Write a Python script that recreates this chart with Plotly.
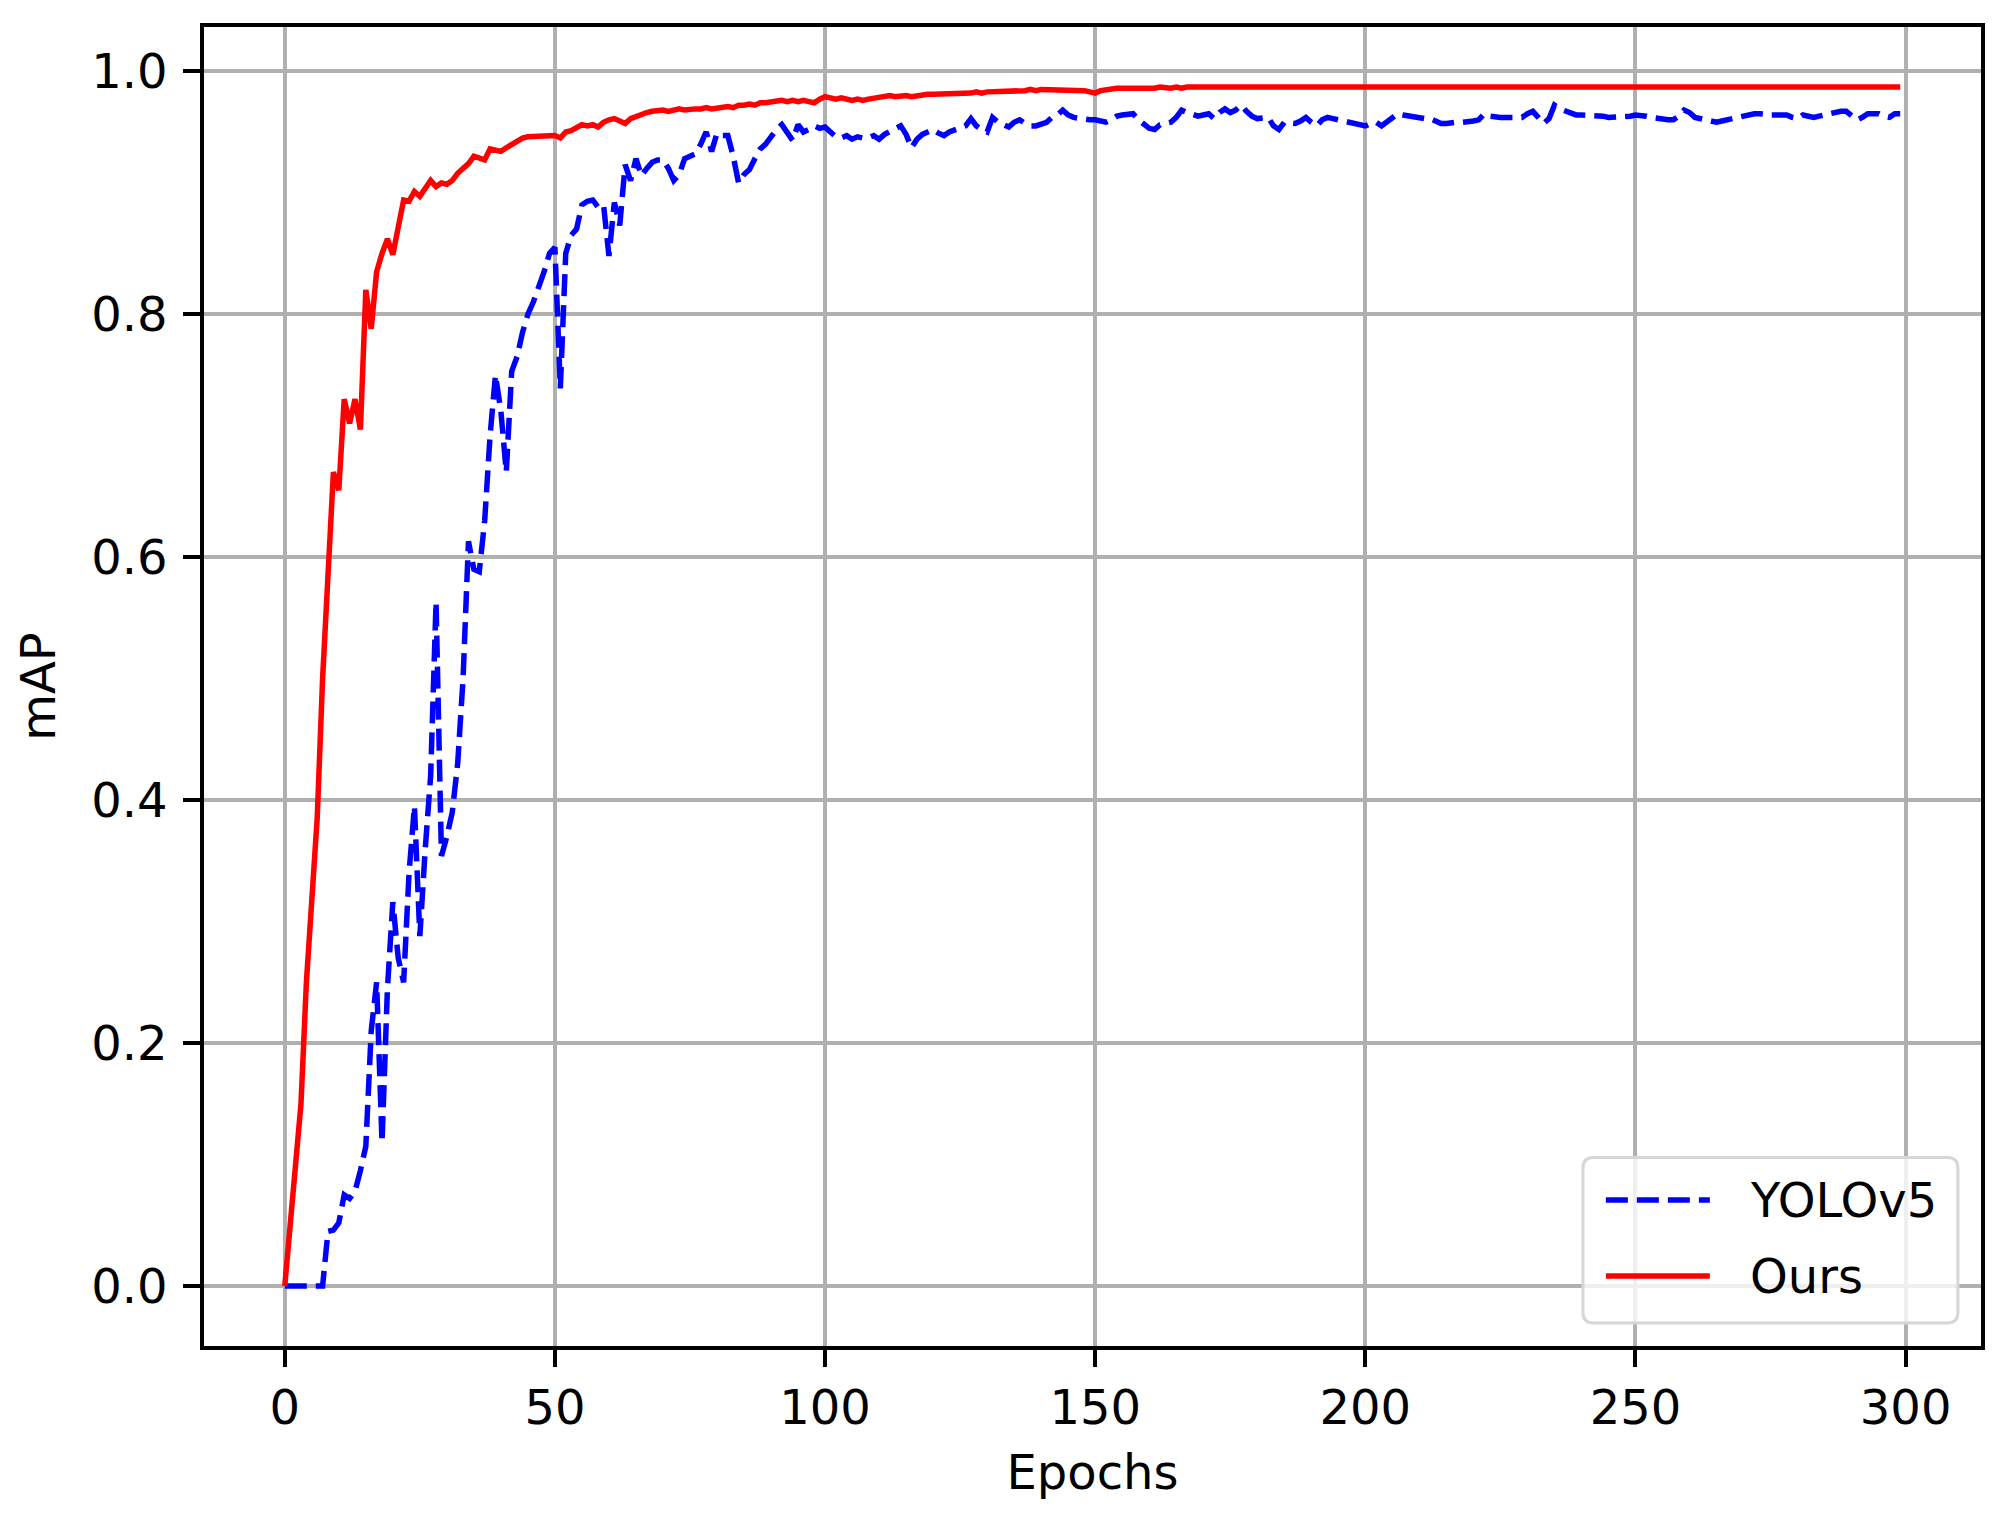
#
# mAP per epoch: YOLOv5 vs. ours
#

import plotly.graph_objects as go

epochs = list(range(300))

map_yolov5 = [
    0.000, 0.000, 0.000, 0.000, 0.000, 0.000, 0.000, 0.000, 0.045, 0.046,
    0.052, 0.075, 0.072, 0.078, 0.095, 0.115, 0.210, 0.250, 0.118, 0.245,
    0.316, 0.270, 0.250, 0.340, 0.395, 0.288, 0.360, 0.420, 0.563, 0.354,
    0.370, 0.390, 0.430, 0.500, 0.613, 0.590, 0.588, 0.630, 0.700, 0.750,
    0.720, 0.670, 0.753, 0.765, 0.785, 0.800, 0.810, 0.822, 0.835, 0.850,
    0.855, 0.739, 0.850, 0.865, 0.870, 0.890, 0.893, 0.894, 0.888, 0.890,
    0.848, 0.892, 0.873, 0.923, 0.910, 0.928, 0.914, 0.920, 0.925, 0.927,
    0.927, 0.920, 0.910, 0.915, 0.928, 0.930, 0.932, 0.940, 0.950, 0.934,
    0.949, 0.947, 0.947, 0.930, 0.908, 0.915, 0.919, 0.928, 0.936, 0.940,
    0.947, 0.952, 0.956, 0.950, 0.943, 0.956, 0.950, 0.952, 0.955, 0.953,
    0.954, 0.950, 0.946, 0.945, 0.947, 0.944, 0.946, 0.945, 0.945, 0.947,
    0.944, 0.948, 0.950, 0.952, 0.955, 0.948, 0.937, 0.944, 0.948, 0.950,
    0.952, 0.949, 0.947, 0.950, 0.952, 0.954, 0.955, 0.961, 0.955, 0.952,
    0.950, 0.962, 0.958, 0.956, 0.954, 0.958, 0.960, 0.957, 0.955, 0.955,
    0.957, 0.958, 0.962, 0.964, 0.968, 0.964, 0.962, 0.961, 0.961, 0.960,
    0.960, 0.959, 0.958, 0.960, 0.963, 0.964, 0.965, 0.965, 0.960, 0.956,
    0.953, 0.952, 0.956, 0.957, 0.958, 0.962, 0.968, 0.966, 0.964, 0.963,
    0.964, 0.965, 0.961, 0.966, 0.969, 0.966, 0.968, 0.972, 0.967, 0.963,
    0.961, 0.962, 0.962, 0.955, 0.952, 0.958, 0.957, 0.957, 0.959, 0.962,
    0.958, 0.955, 0.960, 0.962, 0.961, 0.960, 0.958, 0.957, 0.956, 0.955,
    0.955, 0.957, 0.958, 0.955, 0.958, 0.962, 0.965, 0.964, 0.963, 0.962,
    0.962, 0.961, 0.961, 0.959, 0.957, 0.957, 0.958, 0.958, 0.958, 0.958,
    0.959, 0.960, 0.965, 0.963, 0.962, 0.962, 0.962, 0.962, 0.962, 0.962,
    0.965, 0.967, 0.962, 0.957, 0.961, 0.972, 0.969, 0.967, 0.965, 0.964,
    0.964, 0.964, 0.964, 0.963, 0.963, 0.962, 0.962, 0.962, 0.962, 0.963,
    0.964, 0.964, 0.963, 0.962, 0.961, 0.961, 0.960, 0.960, 0.963, 0.968,
    0.966, 0.962, 0.961, 0.961, 0.959, 0.958, 0.959, 0.960, 0.962, 0.963,
    0.964, 0.964, 0.965, 0.965, 0.964, 0.964, 0.964, 0.964, 0.964, 0.962,
    0.961, 0.964, 0.963, 0.962, 0.963, 0.964, 0.966, 0.967, 0.967, 0.967,
    0.964, 0.960, 0.962, 0.965, 0.965, 0.965, 0.963, 0.962, 0.965, 0.965,
]

map_ours = [
    0.000, 0.050, 0.110, 0.150, 0.250, 0.320, 0.385, 0.500, 0.590, 0.670,
    0.655, 0.730, 0.710, 0.730, 0.705, 0.820, 0.788, 0.835, 0.850, 0.862,
    0.849, 0.872, 0.894, 0.893, 0.901, 0.897, 0.903, 0.910, 0.905, 0.908,
    0.907, 0.910, 0.916, 0.920, 0.924, 0.930, 0.928, 0.927, 0.936, 0.935,
    0.934, 0.937, 0.940, 0.942, 0.945, 0.946, 0.946, 0.947, 0.946, 0.947,
    0.947, 0.945, 0.950, 0.951, 0.953, 0.956, 0.955, 0.956, 0.954, 0.958,
    0.960, 0.961, 0.959, 0.957, 0.961, 0.963, 0.965, 0.966, 0.967, 0.968,
    0.968, 0.967, 0.968, 0.969, 0.968, 0.969, 0.969, 0.969, 0.970, 0.969,
    0.970, 0.971, 0.971, 0.970, 0.972, 0.972, 0.973, 0.972, 0.974, 0.974,
    0.975, 0.976, 0.976, 0.975, 0.976, 0.975, 0.976, 0.975, 0.974, 0.977,
    0.979, 0.978, 0.977, 0.978, 0.977, 0.976, 0.977, 0.976, 0.977, 0.978,
    0.979, 0.980, 0.980, 0.979, 0.980, 0.980, 0.979, 0.980, 0.980, 0.981,
    0.981, 0.981, 0.981, 0.982, 0.981, 0.982, 0.982, 0.982, 0.983, 0.982,
    0.983, 0.983, 0.983, 0.984, 0.983, 0.984, 0.984, 0.984, 0.985, 0.984,
    0.985, 0.985, 0.984, 0.985, 0.985, 0.985, 0.984, 0.984, 0.984, 0.983,
    0.982, 0.984, 0.985, 0.986, 0.986, 0.986, 0.986, 0.985, 0.986, 0.986,
    0.986, 0.986, 0.987, 0.986, 0.986, 0.987, 0.986, 0.987, 0.987, 0.986,
    0.986, 0.987, 0.987, 0.987, 0.986, 0.987, 0.987, 0.987, 0.987, 0.986,
    0.987, 0.987, 0.987, 0.987, 0.987, 0.987, 0.987, 0.987, 0.987, 0.987,
    0.987, 0.987, 0.987, 0.987, 0.987, 0.987, 0.987, 0.987, 0.987, 0.987,
    0.987, 0.987, 0.987, 0.987, 0.987, 0.987, 0.987, 0.987, 0.987, 0.987,
    0.987, 0.987, 0.987, 0.987, 0.987, 0.987, 0.987, 0.987, 0.987, 0.987,
    0.987, 0.987, 0.987, 0.987, 0.987, 0.987, 0.987, 0.987, 0.987, 0.987,
    0.987, 0.987, 0.987, 0.987, 0.987, 0.987, 0.987, 0.987, 0.987, 0.987,
    0.987, 0.987, 0.987, 0.987, 0.987, 0.987, 0.987, 0.987, 0.987, 0.987,
    0.987, 0.987, 0.987, 0.987, 0.987, 0.987, 0.987, 0.987, 0.987, 0.987,
    0.987, 0.987, 0.987, 0.987, 0.987, 0.987, 0.987, 0.987, 0.987, 0.987,
    0.987, 0.987, 0.987, 0.987, 0.987, 0.987, 0.987, 0.987, 0.987, 0.987,
    0.987, 0.987, 0.987, 0.987, 0.987, 0.987, 0.987, 0.987, 0.987, 0.987,
    0.987, 0.987, 0.987, 0.987, 0.987, 0.987, 0.987, 0.987, 0.987, 0.987,
]

x_ticks = [0, 50, 100, 150, 200, 250, 300]
y_ticks = [0.0, 0.2, 0.4, 0.6, 0.8, 1.0]
y_tick_labels = ["0.0", "0.2", "0.4", "0.6", "0.8", "1.0"]

FONT = "DejaVu Sans"
FS = 48
DASH = "22px,9px"
LW = 5.5

fig = go.Figure()
fig.add_trace(go.Scatter(x=epochs, y=map_yolov5, mode="lines", name="YOLOv5",
                         line=dict(color="blue", width=LW, dash=DASH)))
fig.add_trace(go.Scatter(x=epochs, y=map_ours, mode="lines", name="Ours",
                         line=dict(color="red", width=LW)))

axis_style = dict(showgrid=True, gridcolor="#b0b0b0", gridwidth=3.5,
                  zeroline=False, showline=True, linecolor="black", linewidth=3.5,
                  mirror=True, ticks="outside", ticklen=17, tickwidth=3.5,
                  tickcolor="black", tickfont=dict(family=FONT, size=FS, color="black"))

fig.update_xaxes(range=[-14.95, 313.95], tickvals=x_ticks,
                 title=dict(text="Epochs", font=dict(family=FONT, size=FS, color="black"),
                            standoff=22),
                 ticklabelstandoff=0, **axis_style)
fig.update_yaxes(range=[-0.0494, 1.0364], tickvals=y_ticks, ticktext=y_tick_labels,
                 title=dict(text="mAP", font=dict(family=FONT, size=FS, color="black"),
                            standoff=22),
                 ticklabelstandoff=6, **axis_style)

# legend drawn as a matplotlib-style box (lower right)
x0, x1, y0, y1, rx, ry = 0.776, 0.987, 0.0174, 0.143, 0.006, 0.008
box = (f"M {x0+rx},{y0} L {x1-rx},{y0} Q {x1},{y0} {x1},{y0+ry} "
       f"L {x1},{y1-ry} Q {x1},{y1} {x1-rx},{y1} L {x0+rx},{y1} "
       f"Q {x0},{y1} {x0},{y1-ry} L {x0},{y0+ry} Q {x0},{y0} {x0+rx},{y0} Z")
fig.add_shape(type="path", path=box, xref="paper", yref="paper",
              line=dict(color="#d6d6d6", width=3), fillcolor="rgba(255,255,255,0.8)")
legend_rows = [("YOLOv5", "blue", DASH, 0.1107), ("Ours", "red", "solid", 0.0531)]
for label, color, dash, ly in legend_rows:
    fig.add_shape(type="line", xref="paper", yref="paper", x0=0.7889, x1=0.8474,
                  y0=ly, y1=ly, line=dict(color=color, width=LW, dash=dash))
    fig.add_annotation(text=label, xref="paper", yref="paper", x=0.8688, y=ly,
                       xanchor="left", yanchor="middle", showarrow=False,
                       font=dict(family=FONT, size=FS, color="black"))

# page body keeps its default 8px margin, so the figure is 8px smaller
fig.update_layout(width=1996, height=1505, showlegend=False,
                  plot_bgcolor="white", paper_bgcolor="white",
                  font=dict(family=FONT, size=FS, color="black"),
                  margin=dict(l=196, r=23, t=19, b=167))

fig.write_html("out.html")
